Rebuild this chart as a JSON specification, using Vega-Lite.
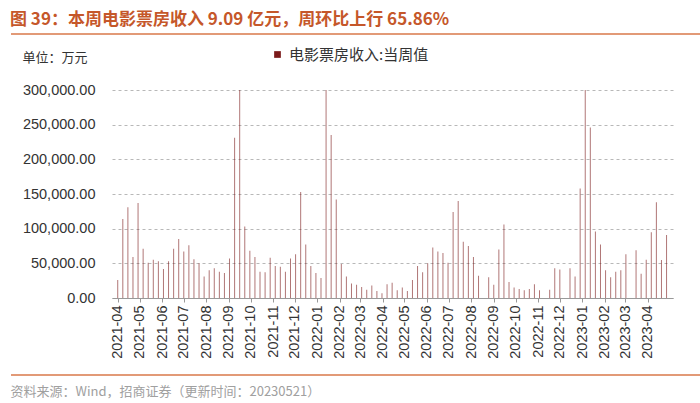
{
  "$schema": "https://vega.github.io/schema/vega-lite/v6.json",
  "width": 561,
  "height": 208,
  "autosize": {"type": "none"},
  "padding": {"left": 112, "top": 90, "right": 27, "bottom": 105},
  "background": "white",
  "config": {"font": "Liberation Sans", "view": {"stroke": null}},
  "title": {
    "text": "图 39：本周电影票房收入 9.09 亿元，周环比上行 65.86%",
    "anchor": "start",
    "frame": "group",
    "dx": -102,
    "offset": 4,
    "fontSize": 17,
    "fontWeight": "bold",
    "font": "Noto Sans CJK SC",
    "color": "#C5572A"
  },
  "resolve": {"axis": {"x": "independent", "y": "independent"}},
  "data": {
    "values": [
      {"date": "2021-04-25", "v": 26000}, {"date": "2021-05-02", "v": 114000}, {"date": "2021-05-09", "v": 131000},
      {"date": "2021-05-16", "v": 59000}, {"date": "2021-05-23", "v": 137000}, {"date": "2021-05-30", "v": 71000},
      {"date": "2021-06-06", "v": 51000}, {"date": "2021-06-13", "v": 55000}, {"date": "2021-06-20", "v": 53000},
      {"date": "2021-06-27", "v": 42000}, {"date": "2021-07-04", "v": 53000}, {"date": "2021-07-11", "v": 71000},
      {"date": "2021-07-18", "v": 85000}, {"date": "2021-07-25", "v": 67000}, {"date": "2021-08-01", "v": 76000},
      {"date": "2021-08-08", "v": 56000}, {"date": "2021-08-15", "v": 50000}, {"date": "2021-08-22", "v": 31000},
      {"date": "2021-08-29", "v": 40000}, {"date": "2021-09-05", "v": 43000}, {"date": "2021-09-12", "v": 38000},
      {"date": "2021-09-19", "v": 36000}, {"date": "2021-09-26", "v": 57000}, {"date": "2021-10-03", "v": 231000},
      {"date": "2021-10-10", "v": 300000}, {"date": "2021-10-17", "v": 103000}, {"date": "2021-10-24", "v": 68000},
      {"date": "2021-10-31", "v": 59000}, {"date": "2021-11-07", "v": 38000}, {"date": "2021-11-14", "v": 37000},
      {"date": "2021-11-21", "v": 58000}, {"date": "2021-11-28", "v": 46000}, {"date": "2021-12-05", "v": 45000},
      {"date": "2021-12-12", "v": 38000}, {"date": "2021-12-19", "v": 57000}, {"date": "2021-12-26", "v": 63000},
      {"date": "2022-01-02", "v": 153000}, {"date": "2022-01-09", "v": 77000}, {"date": "2022-01-16", "v": 46000},
      {"date": "2022-01-23", "v": 36000}, {"date": "2022-01-30", "v": 29000}, {"date": "2022-02-06", "v": 300000},
      {"date": "2022-02-13", "v": 235000}, {"date": "2022-02-20", "v": 142000}, {"date": "2022-02-27", "v": 49000},
      {"date": "2022-03-06", "v": 31000}, {"date": "2022-03-13", "v": 21000}, {"date": "2022-03-20", "v": 19000},
      {"date": "2022-03-27", "v": 16000}, {"date": "2022-04-03", "v": 12000}, {"date": "2022-04-10", "v": 18000},
      {"date": "2022-04-17", "v": 10000}, {"date": "2022-04-24", "v": 7000}, {"date": "2022-05-01", "v": 20000},
      {"date": "2022-05-08", "v": 22000}, {"date": "2022-05-15", "v": 11000}, {"date": "2022-05-22", "v": 15000},
      {"date": "2022-05-29", "v": 10000}, {"date": "2022-06-05", "v": 26000}, {"date": "2022-06-12", "v": 46000},
      {"date": "2022-06-19", "v": 37000}, {"date": "2022-06-26", "v": 50000}, {"date": "2022-07-03", "v": 73000},
      {"date": "2022-07-10", "v": 67000}, {"date": "2022-07-17", "v": 65000}, {"date": "2022-07-24", "v": 51000},
      {"date": "2022-07-31", "v": 124000}, {"date": "2022-08-07", "v": 140000}, {"date": "2022-08-14", "v": 81000},
      {"date": "2022-08-21", "v": 75000}, {"date": "2022-08-28", "v": 59000}, {"date": "2022-09-04", "v": 32000},
      {"date": "2022-09-18", "v": 30000}, {"date": "2022-09-25", "v": 19000}, {"date": "2022-10-02", "v": 70000},
      {"date": "2022-10-09", "v": 106000}, {"date": "2022-10-16", "v": 23000}, {"date": "2022-10-23", "v": 15000},
      {"date": "2022-10-30", "v": 13000}, {"date": "2022-11-06", "v": 11000}, {"date": "2022-11-13", "v": 13000},
      {"date": "2022-11-20", "v": 20000}, {"date": "2022-11-27", "v": 11000}, {"date": "2022-12-11", "v": 12000},
      {"date": "2022-12-18", "v": 43000}, {"date": "2022-12-25", "v": 41000}, {"date": "2023-01-08", "v": 43000},
      {"date": "2023-01-15", "v": 31000}, {"date": "2023-01-22", "v": 158000}, {"date": "2023-01-29", "v": 300000},
      {"date": "2023-02-05", "v": 246000}, {"date": "2023-02-12", "v": 96000}, {"date": "2023-02-19", "v": 77000},
      {"date": "2023-02-26", "v": 40000}, {"date": "2023-03-05", "v": 30000}, {"date": "2023-03-12", "v": 38000},
      {"date": "2023-03-19", "v": 40000}, {"date": "2023-03-26", "v": 63000}, {"date": "2023-04-09", "v": 69000},
      {"date": "2023-04-16", "v": 35000}, {"date": "2023-04-23", "v": 55000}, {"date": "2023-04-30", "v": 95000},
      {"date": "2023-05-07", "v": 138000}, {"date": "2023-05-14", "v": 54806}, {"date": "2023-05-21", "v": 90900}
    ]
  },
  "layer": [
    {
      "mark": {"type": "bar", "size": 1, "opacity": 0.6},
      "encoding": {
        "x": {
          "field": "date",
          "type": "temporal",
          "scale": {
            "type": "utc",
            "domain": [
              {"year": 2021, "month": 4, "date": 24, "utc": true},
              {"year": 2023, "month": 5, "date": 23, "utc": true}
            ]
          },
          "axis": {
            "values": [
              {"year": 2021, "month": 4, "date": 25, "utc": true}, {"year": 2021, "month": 5, "date": 25, "utc": true},
              {"year": 2021, "month": 6, "date": 25, "utc": true}, {"year": 2021, "month": 7, "date": 25, "utc": true},
              {"year": 2021, "month": 8, "date": 25, "utc": true}, {"year": 2021, "month": 9, "date": 25, "utc": true},
              {"year": 2021, "month": 10, "date": 25, "utc": true}, {"year": 2021, "month": 11, "date": 25, "utc": true},
              {"year": 2021, "month": 12, "date": 25, "utc": true}, {"year": 2022, "month": 1, "date": 25, "utc": true},
              {"year": 2022, "month": 2, "date": 25, "utc": true}, {"year": 2022, "month": 3, "date": 25, "utc": true},
              {"year": 2022, "month": 4, "date": 25, "utc": true}, {"year": 2022, "month": 5, "date": 25, "utc": true},
              {"year": 2022, "month": 6, "date": 25, "utc": true}, {"year": 2022, "month": 7, "date": 25, "utc": true},
              {"year": 2022, "month": 8, "date": 25, "utc": true}, {"year": 2022, "month": 9, "date": 25, "utc": true},
              {"year": 2022, "month": 10, "date": 25, "utc": true}, {"year": 2022, "month": 11, "date": 25, "utc": true},
              {"year": 2022, "month": 12, "date": 25, "utc": true}, {"year": 2023, "month": 1, "date": 25, "utc": true},
              {"year": 2023, "month": 2, "date": 25, "utc": true}, {"year": 2023, "month": 3, "date": 25, "utc": true},
              {"year": 2023, "month": 4, "date": 25, "utc": true}
            ],
            "format": "%Y-%m",
            "labelAngle": -90,
            "labelAlign": "right",
            "labelBaseline": "middle",
            "labelFontSize": 14.5,
            "labelColor": "#333333",
            "labelPadding": 3,
            "labelOverlap": false,
            "labelFlush": false,
            "grid": false,
            "domainColor": "#999999",
            "tickColor": "#999999",
            "tickSize": 4,
            "title": "资料来源：Wind，招商证券（更新时间：20230521）",
            "titleFont": "Noto Sans CJK SC",
            "titleFontWeight": "normal",
            "titleFontSize": 13,
            "titleColor": "#A0A0A0",
            "titleAlign": "left",
            "titleAnchor": "start",
            "titleBaseline": "middle",
            "titleX": -102,
            "titleY": 93
          }
        },
        "y": {
          "field": "v",
          "type": "quantitative",
          "scale": {"domain": [0, 300000]},
          "axis": {
            "values": [0, 50000, 100000, 150000, 200000, 250000, 300000],
            "format": ",.2f",
            "labelOverlap": false,
            "grid": true,
            "gridDash": [3, 3],
            "gridColor": "#B8B8B8",
            "gridWidth": 1,
            "domain": false,
            "ticks": false,
            "labelFontSize": 14.5,
            "labelColor": "#333333",
            "labelPadding": 17,
            "title": "单位：万元",
            "titleFont": "Noto Sans CJK SC",
            "titleFontWeight": "normal",
            "titleFontSize": 13,
            "titleColor": "#333333",
            "titleAngle": 0,
            "titleAlign": "left",
            "titleBaseline": "middle",
            "titleX": -90,
            "titleY": -33
          }
        },
        "color": {
          "datum": "电影票房收入:当周值",
          "type": "nominal",
          "scale": {"range": ["#7B1A1A"]},
          "legend": {
            "orient": "none",
            "legendX": 158,
            "legendY": -43,
            "title": null,
            "symbolType": "square",
            "symbolSize": 45,
            "symbolOpacity": 1,
            "symbolStrokeWidth": 0,
            "labelFont": "Noto Sans CJK SC",
            "labelFontSize": 15,
            "labelColor": "#333333",
            "labelOffset": 4
          }
        }
      }
    },
    {
      "data": {"values": [{}]},
      "mark": {"type": "rule", "color": "#D9794A", "strokeWidth": 1.5},
      "encoding": {
        "x": {"datum": {"year": 2020, "month": 11, "date": 29, "utc": true}, "type": "temporal", "axis": null},
        "x2": {"datum": {"year": 2023, "month": 7, "date": 20, "utc": true}},
        "y": {"datum": 380700, "type": "quantitative", "axis": null}
      }
    },
    {
      "data": {"values": [{}]},
      "mark": {"type": "rule", "color": "#D9794A", "strokeWidth": 1.5},
      "encoding": {
        "x": {"datum": {"year": 2020, "month": 11, "date": 29, "utc": true}, "type": "temporal", "axis": null},
        "x2": {"datum": {"year": 2023, "month": 7, "date": 20, "utc": true}},
        "y": {"datum": -111000, "type": "quantitative", "axis": null}
      }
    }
  ]
}
